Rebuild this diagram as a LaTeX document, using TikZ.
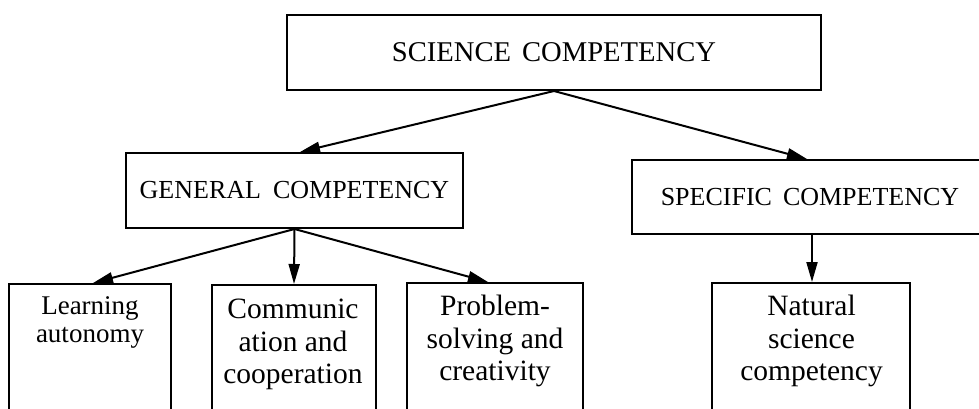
\documentclass[tikz,border=0pt]{standalone}
\usepackage{fontspec}
\setmainfont{Liberation Serif}
\usetikzlibrary{arrows.meta,calc}
\begin{document}
\begin{tikzpicture}[x=1pt,y=-1pt,
  box/.style={draw, line width=2pt, rectangle, inner sep=0pt},
  conn/.style={line width=2pt, -{Triangle[length=20pt,width=11pt]}},
  lbl/.style={inner sep=0pt, align=center, anchor=north}]
\useasboundingbox (0,0) rectangle (979,408);
\clip (0,0) rectangle (979,408);
% level 0
\node[box, minimum width=534pt, minimum height=75pt] (sci) at (554,52.5)
  {\fontsize{28.6}{34}\selectfont SCIENCE\hspace{11pt}COMPETENCY};
% level 1
\node[box, minimum width=337pt, minimum height=75pt] (gen) at (294.5,190.5)
  {\fontsize{26}{30}\selectfont GENERAL\hspace{12pt}COMPETENCY};
\node[box, minimum width=356pt, minimum height=74pt] (spec) at (810,197)
  {\fontsize{26}{30}\selectfont SPECIFIC\hspace{11pt}COMPETENCY};
% level 2 boxes (cut off at the bottom)
\node[box, minimum width=162pt, minimum height=160pt, anchor=north] (learn) at (90,283) {};
\node[box, minimum width=164pt, minimum height=160pt, anchor=north] (comm) at (294,284) {};
\node[box, minimum width=176pt, minimum height=160pt, anchor=north] (prob) at (495,282) {};
\node[box, minimum width=198pt, minimum height=160pt, anchor=north] (nat) at (811,282) {};
% texts
\node[lbl, font=\fontsize{27}{28}\selectfont] (learnt) at (90,296.6) {Learning\\autonomy};
\node[lbl, font=\fontsize{29.5}{32.5}\selectfont] (commt) at (293,299) {Communic\\ation and\\cooperation};
\node[lbl, font=\fontsize{29.5}{32.5}\selectfont] (probt) at (495,295) {Problem-\\solving and\\creativity};
\node[lbl, font=\fontsize{29.5}{32.5}\selectfont] (natt) at (811.5,295) {Natural\\science\\competency};
% connectors
\draw[conn] (sci.south) -- ($(gen.north)+(5.5,0)$);
\draw[conn] (sci.south) -- ($(spec.north)+(-3,0)$);
\draw[conn] (gen.south) -- ($(learn.north)+(3,0)$);
\draw[conn] (gen.south) -- (comm.north);
\draw[conn] (gen.south) -- ($(prob.north)+(-7,0)$);
\draw[conn] ($(spec.south)+(2,0)$) -- ($(nat.north)+(1,0)$);
\end{tikzpicture}
\end{document}
